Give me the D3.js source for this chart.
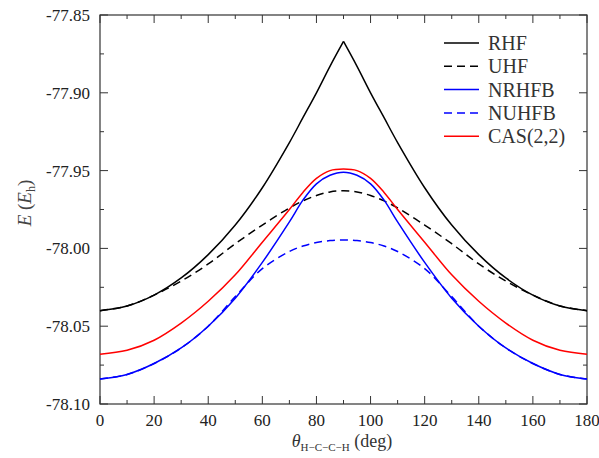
<!DOCTYPE html>
<html>
<head>
<meta charset="utf-8">
<script src="https://cdn.jsdelivr.net/npm/d3@7"></script>
<style>
  body { margin: 0; background: #fff; }
</style>
</head>
<body>
<div id="vis-container"></div>
<script>
// angles in degrees
const angles = [0, 10, 20, 30, 40, 50, 60, 70, 75, 80, 85, 90, 95, 100, 105, 110, 120, 130, 140, 150, 160, 170, 180];

// energies (Eh)
const rhf   = [-78.040, -78.037, -78.030, -78.019, -78.004, -77.985, -77.961, -77.932, -77.916, -77.900, -77.883, -77.867,
               -77.883, -77.900, -77.916, -77.932, -77.961, -77.985, -78.004, -78.019, -78.030, -78.037, -78.040];
const uhf   = [-78.040, -78.037, -78.030, -78.021, -78.010, -77.997, -77.985, -77.974, -77.9695, -77.966, -77.9637, -77.963,
               -77.9637, -77.966, -77.9695, -77.974, -77.985, -77.997, -78.010, -78.021, -78.030, -78.037, -78.040];
const nrhfb = [-78.084, -78.081, -78.074, -78.064, -78.050, -78.032, -78.009, -77.983, -77.969, -77.9585, -77.953, -77.951,
               -77.953, -77.9585, -77.969, -77.983, -78.009, -78.032, -78.050, -78.064, -78.074, -78.081, -78.084];
const nuhfb = [-78.084, -78.081, -78.074, -78.064, -78.050, -78.031, -78.013, -78.002, -77.9985, -77.9962, -77.9950, -77.9946,
               -77.9950, -77.9962, -77.9985, -78.002, -78.013, -78.031, -78.050, -78.064, -78.074, -78.081, -78.084];
const cas   = [-78.068, -78.0655, -78.059, -78.048, -78.034, -78.017, -77.996, -77.975, -77.964, -77.955, -77.950, -77.949,
               -77.950, -77.955, -77.964, -77.975, -77.996, -78.017, -78.034, -78.048, -78.059, -78.0655, -78.068];

const xTicks = [0, 20, 40, 60, 80, 100, 120, 140, 160, 180];
const yTicks = [-77.85, -77.90, -77.95, -78.00, -78.05, -78.10];

let margins = { top: 15, right: 12, bottom: 54, left: 100 };
let width = 599;
let height = 458;
let visWidth = width - margins.left - margins.right;
let visHeight = height - margins.top - margins.bottom;

let svg = d3.select("#vis-container").append("svg").attr("width", width).attr("height", height)
    .attr("font-family", "Liberation Serif")
let viewport = svg.append("g")
    .attr("transform", "translate(" + margins.left + "," + margins.top + ")")

const x = d3.scaleLinear().domain([0, 180]).range([0, visWidth])
const y = d3.scaleLinear().domain([-78.10, -77.85]).range([visHeight, 0])

const axisColor = "#333";

// ticks: major + minor, pointing inward on all 4 sides
function tickAxes() {
    const minorX = d3.range(10, 180, 20);
    const minorY = d3.range(-78.075, -77.85, 0.05);
    const g = viewport.append("g").attr("stroke", axisColor).attr("stroke-width", 1);
    const addX = (vals, len) => {
        vals.forEach(v => {
            g.append("line").attr("x1", x(v)).attr("x2", x(v)).attr("y1", visHeight).attr("y2", visHeight - len);
            g.append("line").attr("x1", x(v)).attr("x2", x(v)).attr("y1", 0).attr("y2", len);
        });
    };
    const addY = (vals, len) => {
        vals.forEach(v => {
            g.append("line").attr("x1", 0).attr("x2", len).attr("y1", y(v)).attr("y2", y(v));
            g.append("line").attr("x1", visWidth).attr("x2", visWidth - len).attr("y1", y(v)).attr("y2", y(v));
        });
    };
    addX(xTicks, 8); addX(minorX, 4);
    addY(yTicks, 8); addY(minorY, 4);
}
tickAxes();

viewport.append("rect")
    .attr("x", 0).attr("y", 0).attr("width", visWidth).attr("height", visHeight)
    .attr("fill", "none").attr("stroke", axisColor).attr("stroke-width", 1.2);

// tick labels
viewport.append("g").selectAll("text").data(xTicks).enter().append("text")
    .attr("x", d => x(d)).attr("y", visHeight + 22)
    .attr("text-anchor", "middle").attr("font-size", 17).attr("fill", "#222")
    .text(d => d);

viewport.append("g").selectAll("text").data(yTicks).enter().append("text")
    .attr("x", -10).attr("y", d => y(d)).attr("dy", "0.35em")
    .attr("text-anchor", "end").attr("font-size", 17).attr("fill", "#222")
    .text(d => d.toFixed(2));

// curves
const line = (vals) => d3.line()
    .x(d => x(d[0])).y(d => y(d[1]))
    .curve(d3.curveCatmullRom.alpha(0.5))(vals);

const series = [
    { name: "RHF", vals: rhf, color: "#000", dash: null, cusp: true },
    { name: "UHF", vals: uhf, color: "#000", dash: "8,5" },
    { name: "NRHFB", vals: nrhfb, color: "#0000ff", dash: null },
    { name: "NUHFB", vals: nuhfb, color: "#0000ff", dash: "8,5" },
    { name: "CAS(2,2)", vals: cas, color: "#ff0000", dash: null }
];

const plot = viewport.append("g")
series.forEach(s => {
    const pts = angles.map((a, i) => [a, s.vals[i]]);
    // RHF has a cusp at 90 deg, draw each half on its own
    const parts = s.cusp ? [pts.filter(p => p[0] <= 90), pts.filter(p => p[0] >= 90)] : [pts];
    parts.forEach(p => {
        plot.append("path")
            .attr("d", line(p))
            .attr("fill", "none")
            .attr("stroke", s.color)
            .attr("stroke-width", 1.5)
            .attr("stroke-dasharray", s.dash);
    });
});

// legend
const legend = viewport.append("g").attr("transform", "translate(344,28)")
series.forEach((s, i) => {
    const row = legend.append("g").attr("transform", "translate(0," + (i * 23.3) + ")");
    row.append("line").attr("x1", 0).attr("x2", 35).attr("y1", 0).attr("y2", 0)
        .attr("stroke", s.color).attr("stroke-width", 1.5).attr("stroke-dasharray", s.dash);
    row.append("text").attr("x", 44).attr("y", 0).attr("dy", "0.35em")
        .attr("font-size", 20).attr("fill", "#333").text(s.name);
});

// axis labels
const xl = svg.append("text")
    .attr("x", 342).attr("y", 447)
    .attr("text-anchor", "middle").attr("font-size", 18).attr("fill", "#333")
xl.append("tspan").attr("font-style", "italic").text("θ")
xl.append("tspan").attr("font-size", 11).attr("dy", 4).text("H−C−C−H")
xl.append("tspan").attr("dy", -4).text(" (deg)")

const yl = svg.append("text")
    .attr("transform", "translate(31,203) rotate(-90)")
    .attr("text-anchor", "middle").attr("font-size", 19).attr("fill", "#444")
yl.append("tspan").attr("font-style", "italic").text("E")
yl.append("tspan").text(" (")
yl.append("tspan").attr("font-style", "italic").text("E")
yl.append("tspan").attr("font-size", 12).attr("dy", 4).text("h")
yl.append("tspan").attr("dy", -4).text(")")
</script>
</body>
</html>
